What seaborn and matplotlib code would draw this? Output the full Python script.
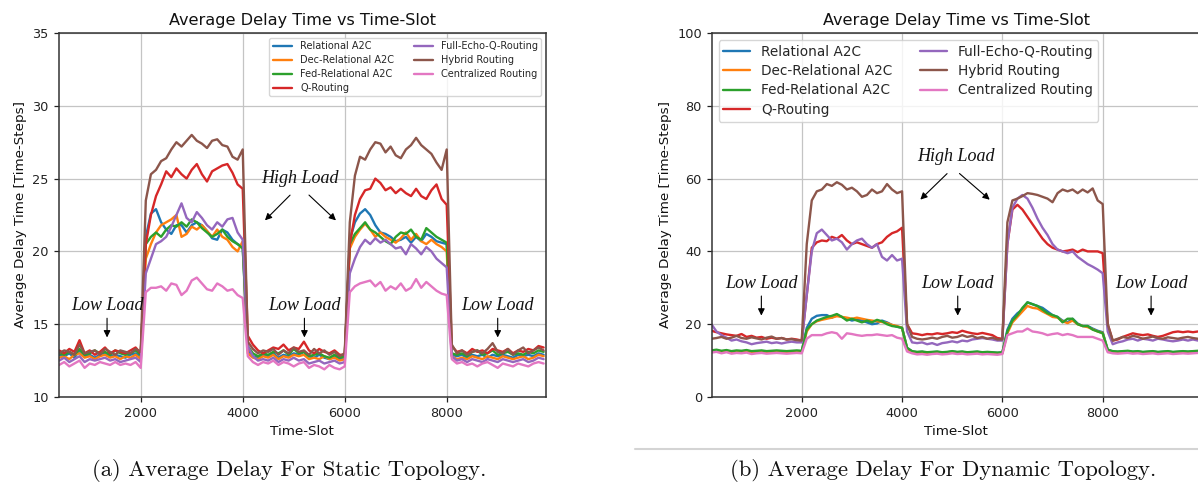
import numpy as np
import pandas as pd
import matplotlib
matplotlib.use("Agg")
import matplotlib.pyplot as plt
from matplotlib.lines import Line2D
import seaborn as sns

# ---------------------------------------------------------------- data
methods = ["Relational A2C", "Dec-Relational A2C", "Fed-Relational A2C", "Q-Routing",
           "Full-Echo-Q-Routing", "Hybrid Routing", "Centralized Routing"]
palette = ["#1f77b4", "#ff7f0e", "#2ca02c", "#d62728", "#9467bd", "#8c564b", "#e377c2"]

# static topology: time slots 400 .. 9900 (step 100)
static_slots = np.arange(400, 10000, 100)

static_rel = [12.9, 12.8, 13.0, 12.7, 13.2, 12.8, 12.9, 12.7, 12.9, 13.0, 12.8, 12.9, 12.8, 12.7, 12.9, 13.0,
              12.8,
              21.0, 22.6, 22.9, 22.0, 21.5, 21.2, 21.8, 21.8, 21.3, 21.8, 22.0, 21.8, 21.4, 20.9, 20.8, 21.5, 21.3, 20.8, 20.5,
              20.3,
              13.2, 12.8, 12.7, 12.9, 12.8, 13.0, 12.7, 12.9, 12.8, 13.0, 12.9, 13.1, 12.8, 12.7, 12.9, 12.7, 12.6, 12.8, 12.6,
              12.7,
              20.8, 22.0, 22.6, 22.9, 22.5, 21.8, 21.3, 21.2, 21.0, 20.7, 20.8, 21.0, 20.6, 21.0, 20.7, 21.2, 21.0, 20.7, 20.6,
              20.5,
              12.9, 12.8, 12.9, 12.7, 12.9, 12.8, 12.9, 12.7, 12.9, 12.8, 12.9, 12.8, 12.7, 12.9, 12.8, 12.9, 12.8, 13.0, 12.9]
static_dec = [12.7, 12.8, 12.6, 12.9, 13.0, 12.7, 12.8, 12.6, 12.8, 12.9, 12.7, 12.8, 12.6, 12.8, 12.7, 12.9,
              12.6,
              19.5, 20.5, 21.3, 21.8, 22.0, 22.2, 22.5, 21.0, 21.2, 21.7, 21.5, 21.8, 21.4, 21.0, 21.5, 21.0, 20.8, 20.3, 20.0,
              20.7,
              13.0, 12.7, 12.6, 12.8, 12.7, 12.9, 12.6, 12.8, 12.7, 12.9, 12.8, 12.9, 12.6, 12.7, 12.6, 12.8, 12.6, 12.7, 12.5,
              12.6,
              20.2, 21.0, 21.5, 21.9, 21.5, 21.0, 21.3, 21.0, 20.8, 20.6, 20.9, 21.3, 20.8, 21.2, 20.7, 20.5, 20.8, 20.5, 20.3,
              20.0,
              12.8, 12.6, 12.7, 12.6, 12.8, 12.7, 12.6, 12.8, 12.7, 12.6, 12.8, 12.7, 12.6, 12.7, 12.8, 12.6, 12.7, 12.9, 12.8]
static_fed = [13.0, 12.9, 13.1, 12.9, 13.3, 12.9, 13.0, 13.2, 13.0, 13.1, 12.9, 13.2, 13.0, 12.9, 13.0, 13.2,
              12.9,
              20.5, 21.0, 21.3, 21.0, 21.5, 21.8, 21.7, 22.0, 21.7, 22.2, 22.0, 21.6, 21.3, 21.0, 21.2, 21.5, 21.0, 20.7, 20.5,
              20.2,
              13.5, 13.0, 12.8, 13.0, 12.9, 13.1, 13.0, 13.2, 12.9, 13.3, 13.0, 13.1, 12.8, 12.9, 13.0, 12.8, 12.7, 12.9, 12.7,
              12.8,
              20.5, 21.2, 21.6, 22.0, 21.5, 21.3, 21.0, 20.7, 20.5, 21.0, 21.3, 21.2, 21.5, 21.0, 20.8, 21.6, 21.3, 21.0, 20.8,
              20.6,
              13.0, 12.9, 13.0, 12.8, 13.1, 13.2, 12.9, 13.0, 13.2, 12.9, 13.0, 13.1, 12.9, 13.0, 12.9, 13.1, 13.0, 13.2, 13.1]
static_q = [13.2, 13.0, 13.3, 13.1, 13.9, 13.0, 13.2, 12.9, 13.1, 13.4, 13.0, 13.2, 13.1, 13.0, 13.2, 13.4,
            13.0,
            20.5, 22.5, 23.8, 24.6, 25.5, 25.1, 25.7, 25.3, 25.0, 25.6, 26.0, 25.3, 24.8, 25.5, 25.7, 25.9, 26.0, 25.4, 24.6,
            24.3,
            14.2, 13.6, 13.2, 13.0, 13.2, 13.4, 13.3, 13.6, 13.2, 13.4, 13.3, 13.8, 13.2, 13.0, 13.3, 13.1, 13.0, 13.2, 12.9,
            12.9,
            20.5, 22.5, 23.6, 24.2, 24.3, 25.0, 24.7, 24.2, 24.4, 24.0, 24.3, 24.0, 23.8, 24.3, 23.8, 23.6, 24.2, 24.6, 23.6,
            23.2,
            13.5, 13.1, 13.2, 13.0, 13.3, 13.1, 13.2, 13.0, 13.3, 13.2, 13.1, 13.3, 13.0, 13.2, 13.1, 13.3, 13.2, 13.5, 13.4]
static_echo = [12.5, 12.7, 12.4, 12.6, 12.8, 12.4, 12.6, 12.5, 12.6, 12.7, 12.5, 12.6, 12.4, 12.5, 12.6, 12.7,
               12.4,
               18.5, 19.5, 20.5, 20.7, 21.0, 21.7, 22.5, 23.3, 22.3, 22.0, 22.7, 22.3, 21.8, 21.5, 22.0, 21.7, 22.2, 22.3, 21.3,
               20.8,
               13.5, 12.8, 12.5, 12.6, 12.5, 12.7, 12.4, 12.6, 12.5, 12.7, 12.5, 12.6, 12.3, 12.4, 12.5, 12.3, 12.4, 12.5, 12.3,
               12.4,
               18.5, 19.5, 20.3, 20.8, 20.5, 20.9, 20.6, 20.8, 20.5, 20.2, 20.3, 19.8, 20.5, 20.2, 19.8, 20.3, 20.0, 19.5, 19.2,
               18.9,
               12.8, 12.5, 12.6, 12.4, 12.6, 12.5, 12.4, 12.6, 12.5, 12.4, 12.6, 12.5, 12.4, 12.5, 12.6, 12.4, 12.5, 12.7, 12.6]
static_hybrid = [13.0, 13.2, 13.1, 12.9, 13.6, 13.0, 13.1, 13.2, 12.9, 13.3, 13.1, 12.9, 13.2, 13.1, 13.0, 13.3,
                 13.1,
                 23.5, 25.3, 25.6, 26.2, 26.4, 27.0, 27.5, 27.2, 27.6, 28.0, 27.6, 27.4, 27.1, 27.6, 27.7, 27.3, 27.2, 26.5, 26.3,
                 27.0,
                 13.8, 13.3, 13.0, 13.2, 13.1, 13.3, 12.9, 13.2, 13.0, 13.4, 13.1, 13.2, 12.9, 13.3, 13.0, 13.2, 12.9, 13.1, 12.8,
                 13.0,
                 22.0, 25.2, 26.5, 26.3, 27.0, 27.5, 27.4, 26.8, 27.2, 26.6, 26.4, 27.0, 27.3, 27.8, 27.3, 27.0, 26.7, 26.1, 25.6,
                 27.0,
                 13.6, 13.0, 13.2, 12.9, 13.1, 13.2, 13.0, 13.3, 13.7, 13.1, 13.0, 13.3, 12.9, 13.2, 13.4, 13.0, 13.2, 13.4, 13.2]
static_central = [12.2, 12.4, 12.1, 12.3, 12.5, 12.0, 12.3, 12.2, 12.4, 12.3, 12.2, 12.4, 12.2, 12.3, 12.2, 12.4,
                  12.0,
                  17.2, 17.5, 17.5, 17.6, 17.3, 17.8, 17.7, 17.0, 17.3, 18.0, 18.2, 17.8, 17.4, 17.3, 17.8, 17.6, 17.3, 17.4, 17.0,
                  16.8,
                  12.8, 12.4, 12.2, 12.4, 12.3, 12.5, 12.2, 12.4, 12.3, 12.1, 12.3, 12.4, 12.0, 12.2, 12.1, 11.9, 12.2, 12.0, 11.9,
                  12.1,
                  17.2, 17.6, 17.8, 17.9, 18.0, 17.6, 17.9, 17.3, 17.6, 17.4, 17.8, 17.3, 17.5, 18.1, 17.5, 17.9, 17.6, 17.3, 17.1,
                  17.0,
                  12.6, 12.3, 12.4, 12.2, 12.3, 12.1, 12.3, 12.4, 12.2, 12.0, 12.3, 12.2, 12.1, 12.3, 12.2, 12.1, 12.3, 12.4, 12.3]

# dynamic topology: time slots 200 .. 9900 (step 100)
dynamic_slots = np.arange(200, 10000, 100)

dynamic_rel = [12.6, 12.8, 12.5, 12.7, 12.4, 12.6, 12.5, 12.7, 12.4, 12.5, 12.6, 12.4, 12.5, 12.6, 12.5, 12.4, 12.5, 12.6,
               12.5,
               19.0, 21.5, 22.3, 22.5, 22.5, 21.8, 22.5, 22.0, 21.5, 21.0, 21.3, 21.0, 20.5, 20.0, 20.2, 21.0, 20.5, 19.8, 19.3,
               19.0,
               13.5, 12.5, 12.3, 12.4, 12.2, 12.3, 12.4, 12.2, 12.3, 12.5, 12.3, 12.4, 12.2, 12.3, 12.4, 12.2, 12.3, 12.2, 12.1,
               12.2,
               18.5, 21.5, 23.0, 24.0, 26.0, 25.5, 25.0, 24.5, 23.5, 22.5, 22.0, 21.0, 20.5, 21.5, 20.2, 19.5, 19.5, 18.8, 18.2,
               17.8,
               13.0, 12.5, 12.4, 12.5, 12.6, 12.4, 12.5, 12.3, 12.4, 12.5, 12.3, 12.4, 12.5, 12.3, 12.4, 12.5, 12.4, 12.5, 12.6]
dynamic_dec = [12.4, 12.6, 12.3, 12.5, 12.2, 12.4, 12.3, 12.5, 12.2, 12.3, 12.4, 12.2, 12.3, 12.4, 12.3, 12.2, 12.3, 12.4,
               12.3,
               18.0, 20.0, 20.8, 21.2, 21.5, 21.8, 22.2, 22.0, 21.8, 21.5, 21.8, 21.5, 21.2, 21.0, 20.8, 20.6, 20.3, 19.8, 19.5,
               19.0,
               13.3, 12.3, 12.1, 12.2, 12.0, 12.1, 12.2, 12.0, 12.1, 12.3, 12.1, 12.2, 12.0, 12.1, 12.2, 12.0, 12.1, 12.0, 11.9,
               12.0,
               17.5, 20.5, 22.0, 23.5, 25.0, 24.5, 24.3, 23.5, 22.8, 22.0, 21.8, 20.8, 20.3, 21.0, 20.0, 19.5, 19.2, 18.6, 18.0,
               17.6,
               12.8, 12.3, 12.2, 12.3, 12.4, 12.2, 12.3, 12.1, 12.2, 12.3, 12.1, 12.2, 12.3, 12.1, 12.2, 12.3, 12.2, 12.3, 12.4]
dynamic_fed = [12.8, 13.0, 12.7, 12.9, 12.6, 12.8, 12.7, 12.9, 12.6, 12.7, 12.8, 12.6, 12.7, 12.8, 12.7, 12.6, 12.7, 12.8,
               12.7,
               18.5, 20.0, 21.0, 21.5, 22.0, 22.3, 22.8, 22.0, 21.0, 21.5, 21.0, 20.5, 21.0, 20.5, 21.2, 20.8, 20.0, 19.5, 19.3,
               19.0,
               13.5, 12.6, 12.4, 12.5, 12.3, 12.4, 12.5, 12.3, 12.4, 12.6, 12.4, 12.5, 12.3, 12.4, 12.5, 12.3, 12.4, 12.3, 12.2,
               12.3,
               18.0, 21.0, 22.5, 24.5, 26.0, 25.5, 25.0, 24.0, 23.0, 22.5, 22.0, 20.5, 21.5, 21.5, 20.0, 19.5, 19.5, 18.5, 18.0,
               17.5,
               13.0, 12.6, 12.5, 12.6, 12.7, 12.5, 12.6, 12.4, 12.5, 12.6, 12.4, 12.5, 12.6, 12.4, 12.5, 12.6, 12.5, 12.6, 12.7]
dynamic_q = [18.2, 17.8, 17.5, 17.2, 17.0, 16.8, 17.3, 16.5, 16.8, 16.3, 16.5, 16.0, 16.3, 16.0, 16.2, 15.8, 16.0, 15.8,
             15.5,
             28.0, 41.0, 42.5, 43.0, 42.8, 44.0, 43.5, 44.5, 43.0, 42.0, 42.5, 42.0, 41.5, 41.0, 42.0, 42.5, 44.0, 45.0, 45.5,
             46.5,
             20.0, 17.5, 17.3, 17.0, 17.3, 17.2, 17.5, 17.3, 17.5, 17.8, 17.6, 18.2, 17.8, 17.5, 17.3, 17.6, 17.3, 17.0, 16.2,
             16.0,
             42.0, 51.5, 52.8, 51.5, 49.5, 47.5, 45.5, 43.5, 42.0, 41.0, 40.5, 40.0, 40.2, 40.5, 39.8, 40.5, 40.0, 40.0, 40.0,
             39.5,
             20.0, 15.5, 15.8, 16.5, 17.0, 17.5, 17.2, 17.0, 17.2, 16.8, 16.5, 16.8, 17.3, 17.8, 18.0, 17.8, 18.0, 17.8, 18.0]
dynamic_echo = [20.0, 18.0, 17.0, 16.3, 15.5, 15.8, 15.3, 15.0, 14.5, 14.8, 15.0, 15.2, 14.8, 15.0, 14.7, 15.0, 15.2, 15.0,
                15.0,
                28.0, 40.0, 45.0, 46.0, 44.5, 43.0, 43.5, 42.5, 40.5, 42.0, 43.0, 43.5, 42.0, 41.0, 42.0, 38.5, 37.5, 39.0, 37.5,
                38.0,
                18.0, 15.0, 14.8, 15.0, 14.5, 14.8, 14.3, 14.8, 15.0, 15.3, 15.0, 15.5, 15.3, 15.8, 16.0, 16.2, 16.0, 15.8, 15.5,
                15.5,
                42.0, 52.0, 54.5, 55.5, 54.5, 52.0, 49.0, 46.5, 44.5, 42.0, 40.5, 40.0, 39.5, 40.0, 38.5, 37.5, 36.5, 35.8, 35.0,
                34.0,
                18.0, 14.5, 15.0, 15.3, 15.8, 16.0, 15.5, 16.0, 15.8, 15.5, 16.0, 15.8, 15.5, 15.3, 15.5, 15.8, 15.5, 15.8, 15.5]
dynamic_hybrid = [16.0, 16.2, 16.5, 16.0, 16.3, 16.8, 16.2, 16.0, 16.4, 16.1, 15.8, 16.3, 16.6, 16.0, 16.2, 15.8, 15.9, 15.6,
                  15.5,
                  42.0, 54.0, 56.5, 57.0, 58.5, 58.0, 59.0, 58.3, 57.0, 57.5, 56.5, 55.0, 55.5, 57.0, 56.0, 56.5, 58.5, 57.0, 56.0,
                  56.5,
                  20.0, 16.5, 16.0, 15.8, 16.0, 16.3, 16.0, 16.5, 16.8, 16.3, 16.5, 17.0, 16.5, 16.8, 16.2, 16.5, 16.0, 16.3, 15.8,
                  15.8,
                  48.0, 54.0, 54.5, 55.2, 56.0, 55.8, 55.5, 55.0, 54.5, 53.5, 56.0, 57.0, 56.5, 57.0, 56.0, 57.0, 56.2, 57.3, 54.0,
                  53.0,
                  20.0, 15.5, 16.0, 16.5, 16.2, 16.8, 16.5, 16.0, 16.3, 16.6, 16.2, 16.0, 16.4, 16.2, 16.0, 16.3, 16.5, 16.2, 16.0]
dynamic_central = [12.2, 12.4, 12.0, 12.3, 11.9, 12.1, 12.0, 12.2, 11.8, 12.0, 12.1, 11.9, 12.0, 12.1, 12.0, 11.9, 12.0, 12.1,
                   12.0,
                   16.0, 17.0, 17.0, 17.0, 17.5, 17.8, 17.5, 16.0, 17.5, 17.3, 17.0, 16.8, 17.0, 17.0, 17.2, 17.0, 16.8, 17.0, 16.3,
                   16.0,
                   12.5, 12.0, 11.7, 11.8, 11.6, 11.8, 11.9, 11.7, 11.8, 12.0, 11.8, 11.9, 11.7, 11.8, 11.9, 11.7, 11.8, 11.7, 11.6,
                   11.8,
                   17.0, 17.5, 18.0, 18.0, 18.8, 18.0, 17.8, 17.5, 17.0, 17.3, 17.5, 17.0, 17.3, 17.0, 16.5, 16.5, 16.5, 16.5, 16.0,
                   15.5,
                   12.3, 12.0, 11.9, 12.0, 12.1, 11.9, 12.0, 11.8, 11.9, 12.0, 11.8, 11.9, 12.0, 11.8, 11.9, 12.0, 11.9, 12.0, 12.1]

static_series = [static_rel, static_dec, static_fed, static_q, static_echo, static_hybrid, static_central]
dynamic_series = [dynamic_rel, dynamic_dec, dynamic_fed, dynamic_q, dynamic_echo, dynamic_hybrid, dynamic_central]


def long_frame(slots, series):
    parts = [pd.DataFrame({"Time-Slot": slots, "Delay": vals, "Method": name})
             for name, vals in zip(methods, series)]
    return pd.concat(parts, ignore_index=True)


static_df = long_frame(static_slots, static_series)
dynamic_df = long_frame(dynamic_slots, dynamic_series)

# ---------------------------------------------------------------- style
sns.set_theme(style="ticks")
plt.rcParams.update({
    "font.family": ["DejaVu Sans"],
    "axes.edgecolor": "#333333",
    "axes.linewidth": 1.1,
    "grid.color": "#c4c4c4",
    "grid.linewidth": 0.9,
    "xtick.labelsize": 9.3,
    "ytick.labelsize": 9.3,
    "xtick.color": "#222222",
    "ytick.color": "#222222",
})

W, H = 1198, 483
fig = plt.figure(figsize=(W / 100, H / 100), dpi=100)
ax1 = fig.add_axes([58.5 / W, 86 / H, (546 - 58.5) / W, 364 / H])
ax2 = fig.add_axes([711.7 / W, 86 / H, (1200.5 - 711.7) / W, 364 / H])

note_font = dict(family="Liberation Serif", style="italic", fontsize=13, color="#111111")
arrow_kw = dict(arrowstyle="-|>", color="black", lw=0.8, mutation_scale=10)


def draw_panel(ax, df, xlim, ylim, legend_loc, legend_size, high, lows):
    sns.lineplot(data=df, x="Time-Slot", y="Delay", hue="Method", hue_order=methods,
                 palette=palette, linewidth=1.7, ax=ax)
    ax.set_xlim(*xlim)
    ax.set_ylim(*ylim)
    ax.set_xticks([2000, 4000, 6000, 8000])
    ax.grid(True)
    ax.set_title("Average Delay Time vs Time-Slot", fontsize=11.6, color="#111111")
    ax.set_xlabel("Time-Slot", fontsize=9.7, color="#111111")
    ax.set_ylabel("Average Delay Time [Time-Steps]", fontsize=9.7, color="#111111")
    ax.tick_params(length=3.5, width=0.9)
    handles, labels = ax.get_legend_handles_labels()
    ax.legend(handles, labels, loc=legend_loc, ncol=2, fontsize=legend_size,
              frameon=True, framealpha=0.8, edgecolor="#cccccc", fancybox=True,
              borderpad=0.35, labelspacing=0.4)

    (tx, ty), tails, heads = high
    ax.text(tx, ty, "High Load", ha="center", va="center", **note_font)
    for t, h in zip(tails, heads):
        ax.annotate("", xy=h, xytext=t, arrowprops=arrow_kw)
    (xs, ty_low, y_from, y_to) = lows
    for x in xs:
        ax.text(x, ty_low, "Low Load", ha="center", va="center", **note_font)
        ax.annotate("", xy=(x, y_to), xytext=(x, y_from), arrowprops=arrow_kw)


draw_panel(ax1, static_df, (388, 9947), (10, 35), "upper right", 7.0,
           ((5120, 25.0), [(4967, 24.0), (5260, 24.0)], [(4398, 22.0), (5868, 22.0)]),
           ([1340, 5210, 9000], 16.3, 15.6, 13.9))
ax1.set_yticks([10, 15, 20, 25, 30, 35])

draw_panel(ax2, dynamic_df, (205, 9950), (0, 100), "upper left", 9.8,
           ((5065, 66.0), [(4937, 61.9), (5103, 61.9)], [(4325, 53.7), (5789, 53.7)]),
           ([1195, 5110, 8965], 31.2, 28.5, 21.6))
ax2.set_yticks([0, 20, 40, 60, 80, 100])

# sub-figure captions and rule
cap_font = dict(family="cmr10", fontsize=16.3, color="#111111", ha="center", va="center")
fig.text(289 / W, 1 - 470 / H, "(a) Average Delay For Static Topology.", **cap_font)
fig.text(943 / W, 1 - 470 / H, "(b) Average Delay For Dynamic Topology.", **cap_font)
fig.add_artist(Line2D([635 / W, 1.0], [1 - 449 / H, 1 - 449 / H], color="#d4d4d4",
                      lw=1.5, transform=fig.transFigure))

fig.savefig("out.png", dpi=100)
